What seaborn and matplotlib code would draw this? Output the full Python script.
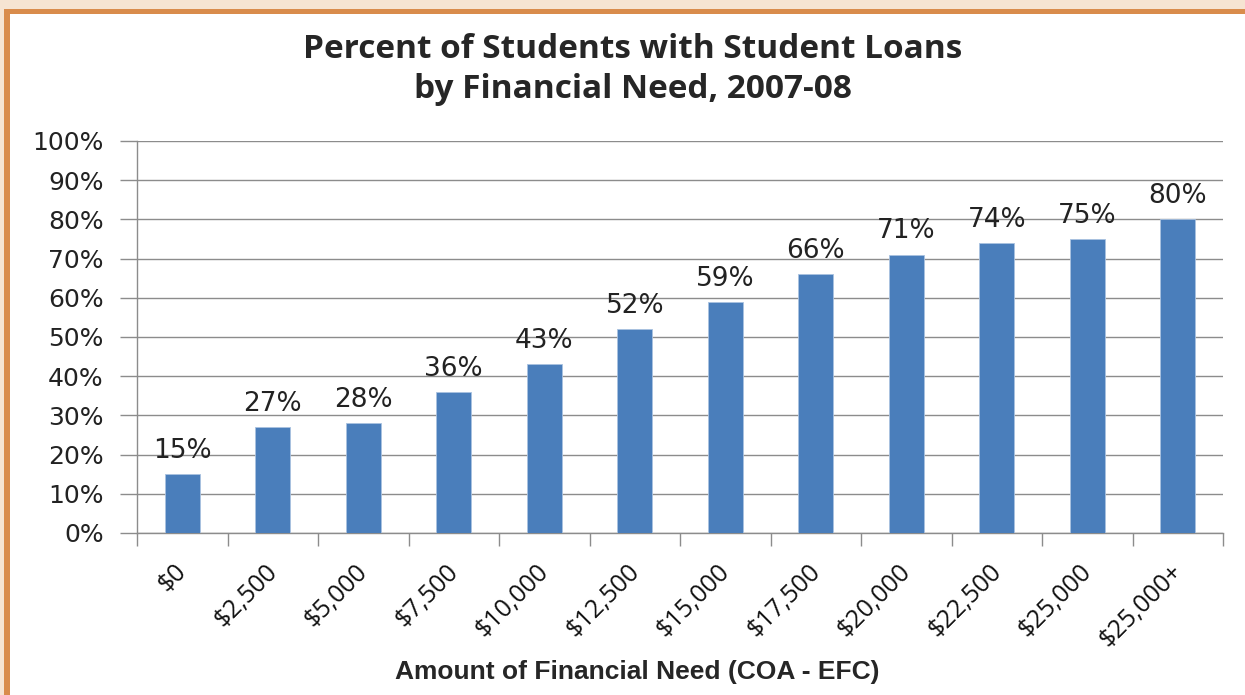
import numpy as np
import pandas as pd
import matplotlib
matplotlib.use("Agg")
import matplotlib.pyplot as plt
import matplotlib.transforms as mtransforms
import seaborn as sns
from matplotlib.patches import Rectangle

sns.set_style("white")
plt.rcParams['font.family'] = ['DejaVu Sans']

# ------------------------------
# Data
# ------------------------------
need_labels = [
    "$0", "$2,500", "$5,000", "$7,500", "$10,000", "$12,500",
    "$15,000", "$17,500", "$20,000", "$22,500", "$25,000", "$25,000+",
]
pct_with_loans = [15, 27, 28, 36, 43, 52, 59, 66, 71, 74, 75, 80]
y_ticks = [0, 10, 20, 30, 40, 50, 60, 70, 80, 90, 100]

df = pd.DataFrame({"need": need_labels, "pct": pct_with_loans})

# ------------------------------
# Figure
# ------------------------------
fig = plt.figure(figsize=(12.45, 6.95), dpi=100)
fig.patch.set_facecolor("white")

# frame: peach outer band + orange border (top and left)
W, H = 1245, 695
fig.patches.append(Rectangle((0, 1 - 9 / H), 1, 9 / H, transform=fig.transFigure,
                             facecolor="#F6E4D2", edgecolor="none", zorder=0))
fig.patches.append(Rectangle((0, 0), 4 / W, 1, transform=fig.transFigure,
                             facecolor="#F6E4D2", edgecolor="none", zorder=0))
fig.patches.append(Rectangle((4 / W, 1 - 14 / H), 1, 5 / H, transform=fig.transFigure,
                             facecolor="#D98C4C", edgecolor="none", zorder=1))
fig.patches.append(Rectangle((4 / W, 0), 6 / W, 1 - 9 / H, transform=fig.transFigure,
                             facecolor="#D98C4C", edgecolor="none", zorder=1))

ax = fig.add_axes([137 / W, 1 - 533 / H, (1223 - 137) / W, (533 - 141) / H])

sns.barplot(data=df, x="need", y="pct", color="#4A7EBB", saturation=1, width=0.39,
            edgecolor="#A9C2E0", linewidth=0.6, ax=ax, zorder=3)

for i, v in enumerate(pct_with_loans):
    ax.text(i, v + 2.6, f"{v}%", ha="center", va="bottom", fontsize=19,
            color="#222222", zorder=4)

ax.set_ylim(0, 100)
ax.set_xlim(-0.5, len(need_labels) - 0.5)
ax.set_yticks(y_ticks)
ax.set_yticklabels([f"{t}%" for t in y_ticks], fontsize=18, color="#222222")
ax.yaxis.grid(True, color="#8C8C8C", linewidth=1.0, zorder=0)
ax.set_axisbelow(True)
ax.tick_params(axis="y", length=12, width=1.0, color="#8C8C8C", pad=12, left=True)

# category labels at bar centers, tick marks at category boundaries
ax.set_xticks(np.arange(len(need_labels)))
ax.set_xticklabels(need_labels, rotation=45, ha="right", rotation_mode="anchor",
                   fontsize=18, family="Open Sans", color="#111111")
ax.tick_params(axis="x", length=0, pad=19)
shift = mtransforms.ScaledTranslation(-8 / 100, 0, fig.dpi_scale_trans)
for lbl in ax.get_xticklabels():
    lbl.set_transform(lbl.get_transform() + shift)
ax.set_xticks(np.arange(len(need_labels) + 1) - 0.5, minor=True)
ax.tick_params(axis="x", which="minor", length=9, width=1.0, color="#8C8C8C",
               bottom=True)

for side in ["top", "right"]:
    ax.spines[side].set_visible(False)
for side in ["left", "bottom"]:
    ax.spines[side].set_color("#8C8C8C")
    ax.spines[side].set_linewidth(1.0)

ax.set_xlabel("")
ax.set_ylabel("")

fig.text(0.508, 1 - 50 / H, "Percent of Students with Student Loans",
         ha="center", va="center", fontsize=24, fontweight="bold", family="Open Sans")
fig.text(0.508, 1 - 89 / H, "by Financial Need, 2007-08",
         ha="center", va="center", fontsize=24, fontweight="bold", family="Open Sans")
fig.text(0.512, 1 - 672 / H, "Amount of Financial Need (COA - EFC)",
         ha="center", va="center", fontsize=19, fontweight="bold",
         family="Liberation Sans")

fig.savefig("out.png", dpi=100)
